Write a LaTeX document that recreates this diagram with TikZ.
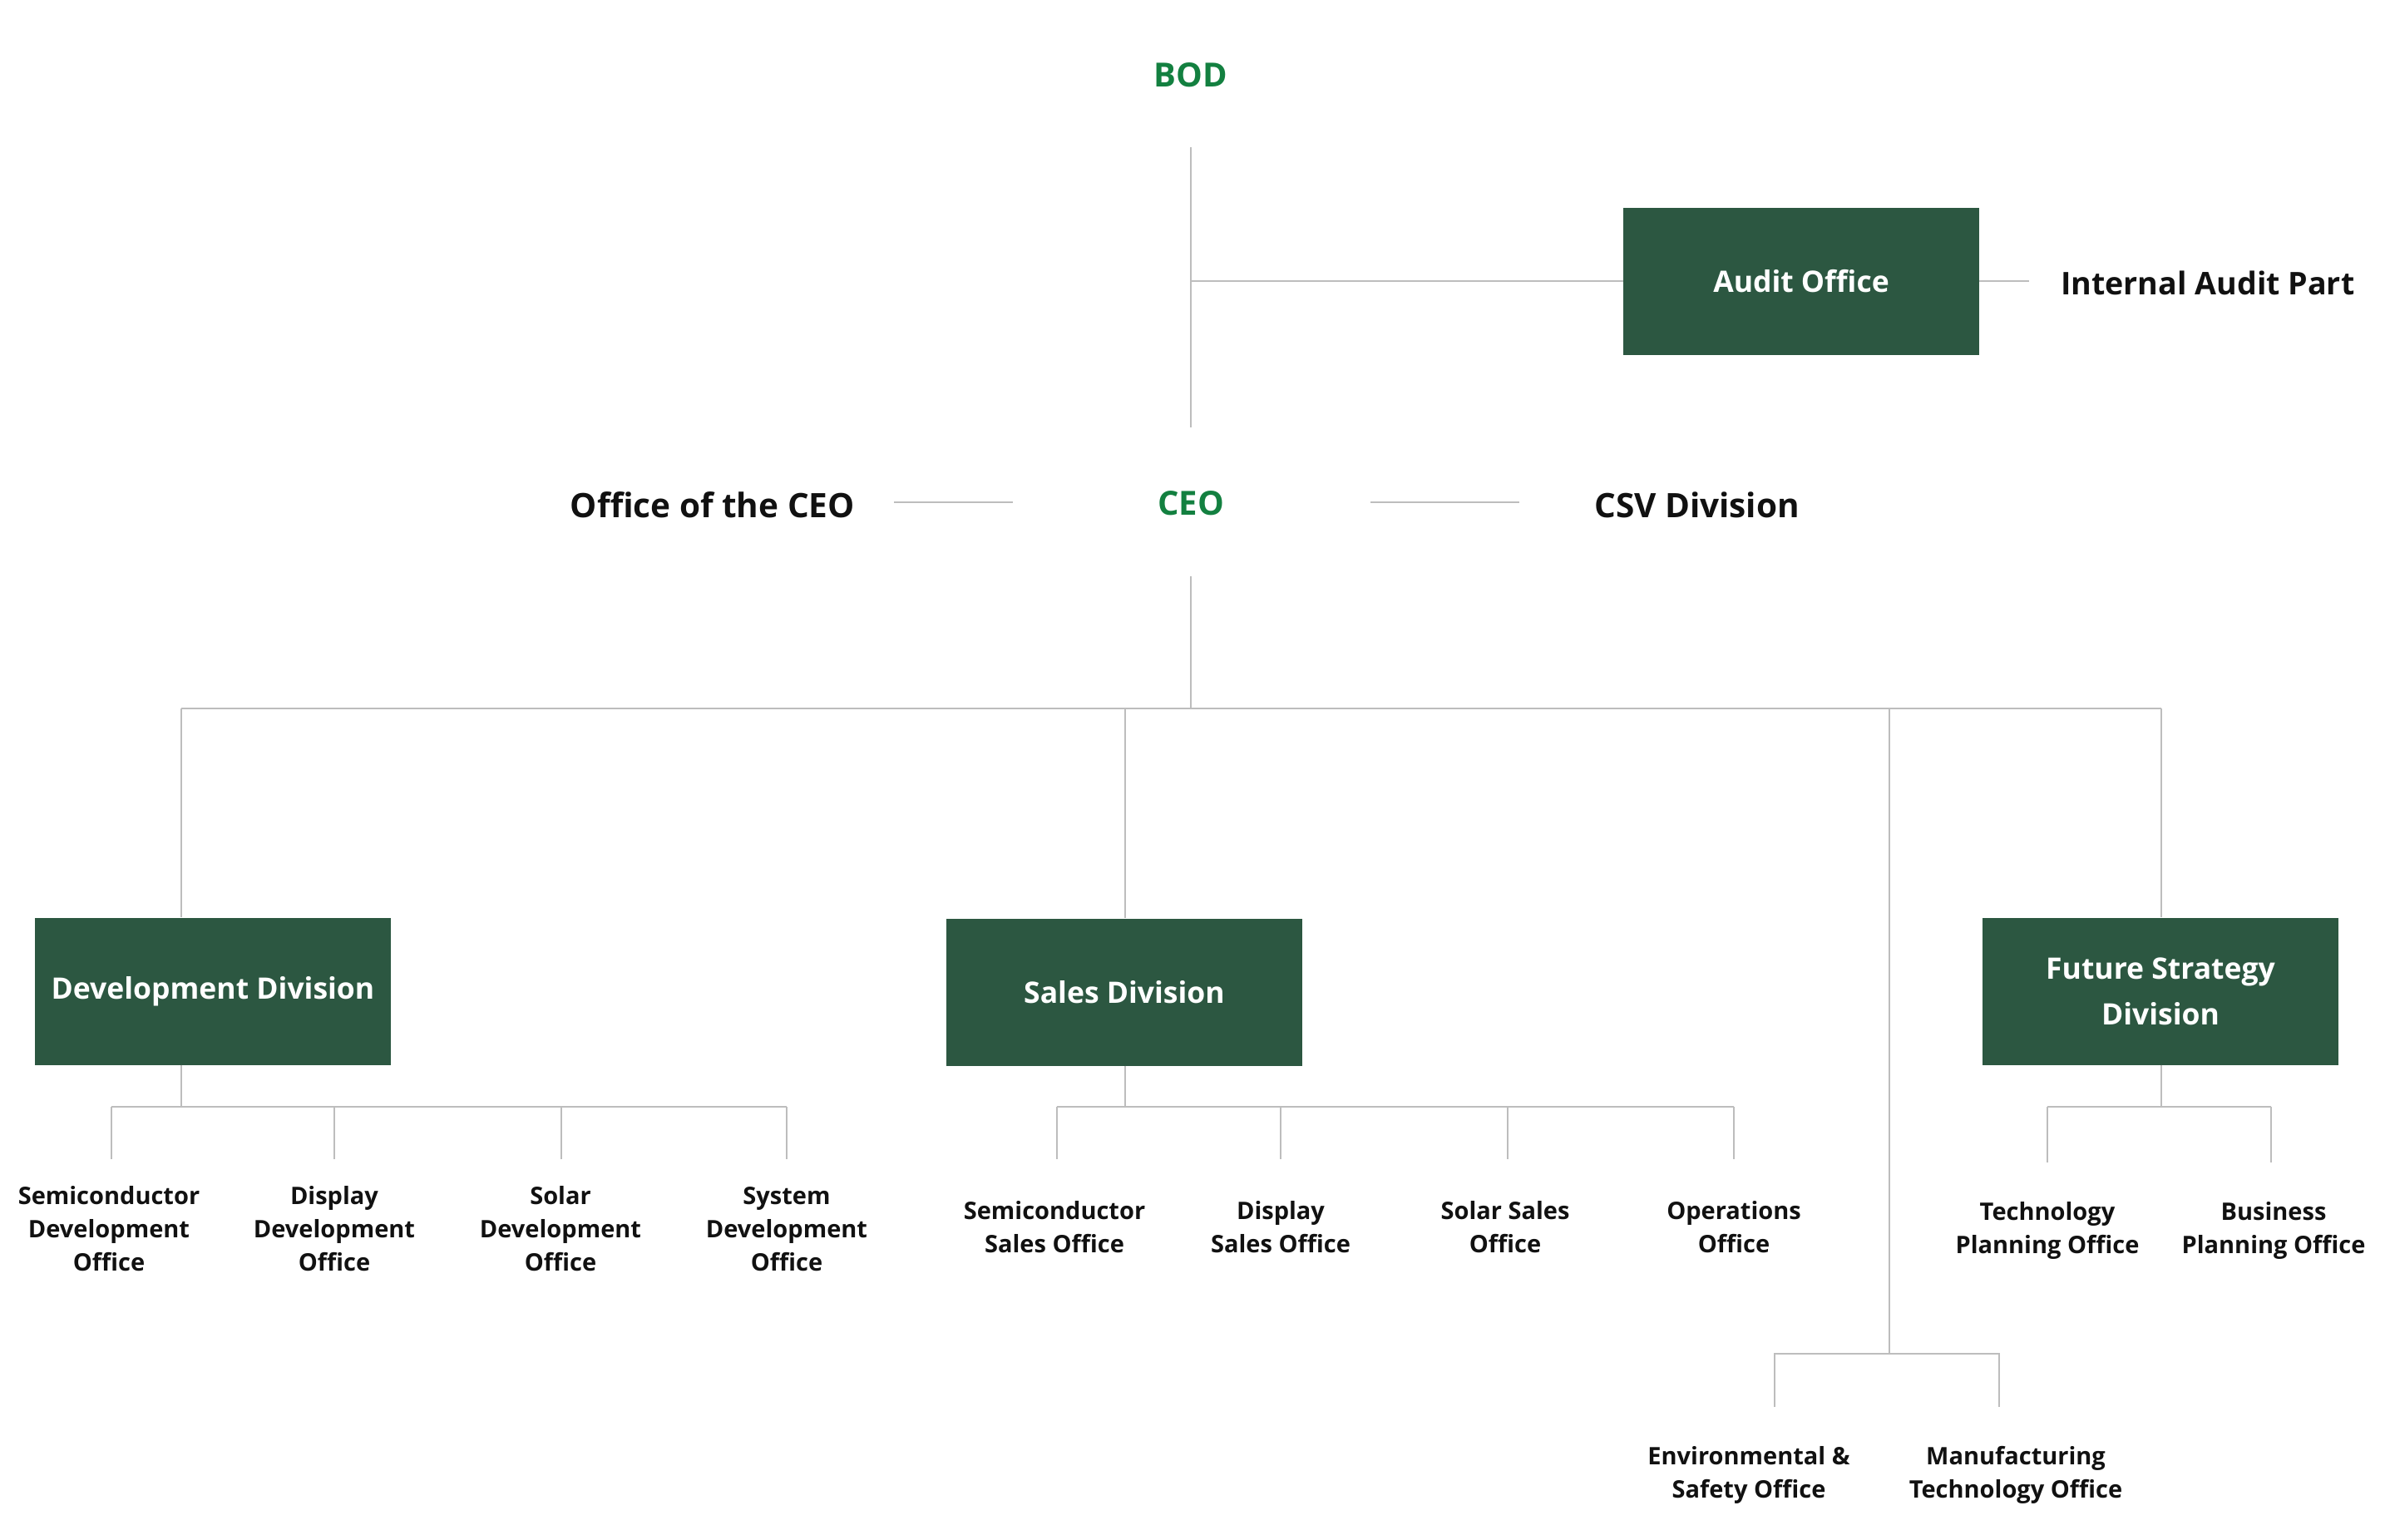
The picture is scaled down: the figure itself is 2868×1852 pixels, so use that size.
\documentclass[tikz,border=0pt]{standalone}
\usepackage{fontspec}
\setmainfont{Open Sans}
\definecolor{boxgreen}{HTML}{2C5741}
\definecolor{txtgreen}{HTML}{138040}
\definecolor{linegray}{HTML}{BDBDBD}
\definecolor{txtblack}{HTML}{111111}
\tikzset{
  conn/.style={draw=linegray, line width=2pt},
  topname/.style={text=txtgreen, font=\fontsize{40}{48}\selectfont\bfseries, inner sep=0pt},
  bigtext/.style={text=txtblack, font=\fontsize{37.6}{48}\selectfont\bfseries, inner sep=0pt},
  sidetext/.style={text=txtblack, font=\fontsize{40.5}{48}\selectfont\bfseries, inner sep=0pt},
  divbox/.style={fill=boxgreen, text=white, minimum width=428pt, minimum height=177pt, inner sep=0pt, align=center, font=\fontsize{35.5}{55}\selectfont\bfseries},
  unit/.style={text=txtblack, font=\fontsize{29}{40}\selectfont\bfseries, align=center, inner sep=0pt},
}
\begin{document}
\begin{tikzpicture}[x=1pt,y=-1pt]
\useasboundingbox (0,0) rectangle (2868,1852);
% top
\node[topname] (bod) at (1432,90) {BOD};
\node[topname] (ceo) at (1432,605) {CEO};
\node[divbox] (audit) at (2166,338) {Audit Office};
\node[bigtext, anchor=west] (iap) at (2478,340) {Internal Audit Part};
\node[sidetext, anchor=east] (off) at (1028,607) {Office of the CEO};
\node[sidetext, anchor=west] (csv) at (1917,607) {CSV Division};
\coordinate (bodl) at (1432,177);
\coordinate (ceol) at (1432,514);
\coordinate (jaud) at (1432,338);
\coordinate (iapl) at (2440,338);
\draw[conn] (bodl) -- (ceol);
\draw[conn] (jaud) -- (audit.west);
\draw[conn] (audit.east) -- (iapl);
\coordinate (offa) at (1075,604);
\coordinate (offb) at (1218,604);
\coordinate (csva) at (1648,604);
\coordinate (csvb) at (1827,604);
\draw[conn] (offa) -- (offb);
\draw[conn] (csva) -- (csvb);
% divisions
\coordinate (ceod) at (1432,693);
\coordinate (busL) at (218,852);
\coordinate (busR) at (2599,852);
\coordinate (busC) at (1432,852);
\coordinate (busS) at (1353,852);
\coordinate (busM) at (2272,852);
\draw[conn] (ceod) -- (busC);
\draw[conn] (busL) -- (busR);
\node[divbox] (dev) at (256,1192) {Development Division};
\node[divbox] (sales) at (1352,1193) {Sales Division};
\node[divbox] (fs) at (2598,1192) {Future Strategy\\Division};
\draw[conn] (busL) -- (busL |- dev.north);
\draw[conn] (busS) -- (busS |- sales.north);
\draw[conn] (busR) -- (busR |- fs.north);
% manufacturing branch
\coordinate (mbus) at (2272,1628);
\coordinate (mbL) at (2134,1628);
\coordinate (mbR) at (2404,1628);
\coordinate (mdL) at (2134,1692);
\coordinate (mdR) at (2404,1692);
\draw[conn] (busM) -- (mbus);
\draw[conn] (mdL) -- (mbL) -- (mbR) -- (mdR);
\node[unit] (env) at (2103,1774) {Environmental \&\\Safety Office};
\node[unit] (mfg) at (2424,1774) {Manufacturing\\Technology Office};
% development children
\coordinate (devj) at (218,1331);
\draw[conn] (dev.south -| devj) -- (devj);
\coordinate (dbL) at (134,1331);
\coordinate (dbR) at (946,1331);
\draw[conn] (dbL) -- (dbR);
\foreach \x in {134,402,675,946} \draw[conn] (\x,1331) -- (\x,1394);
\node[unit] (d1) at (131,1478) {Semiconductor\\Development\\Office};
\node[unit] (d2) at (402,1478) {Display\\Development\\Office};
\node[unit] (d3) at (674,1478) {Solar\\Development\\Office};
\node[unit] (d4) at (946,1478) {System\\Development\\Office};
% sales children
\coordinate (salj) at (1353,1331);
\draw[conn] (sales.south -| salj) -- (salj);
\coordinate (sbL) at (1271,1331);
\coordinate (sbR) at (2085,1331);
\draw[conn] (sbL) -- (sbR);
\foreach \x in {1271,1540,1813,2085} \draw[conn] (\x,1331) -- (\x,1394);
\node[unit] (s1) at (1268,1476) {Semiconductor\\Sales Office};
\node[unit] (s2) at (1540,1476) {Display\\Sales Office};
\node[unit] (s3) at (1810,1476) {Solar Sales\\Office};
\node[unit] (s4) at (2085,1476) {Operations\\Office};
% future strategy children
\coordinate (fsj) at (2599,1331);
\draw[conn] (fs.south -| fsj) -- (fsj);
\coordinate (fbL) at (2462,1331);
\coordinate (fbR) at (2731,1331);
\draw[conn] (fbL) -- (fbR);
\foreach \x in {2462,2731} \draw[conn] (\x,1331) -- (\x,1398);
\node[unit] (f1) at (2462,1480) {Technology\\Planning Office};
\node[unit] (f2) at (2734,1480) {Business\\Planning Office};
\end{tikzpicture}
\end{document}
